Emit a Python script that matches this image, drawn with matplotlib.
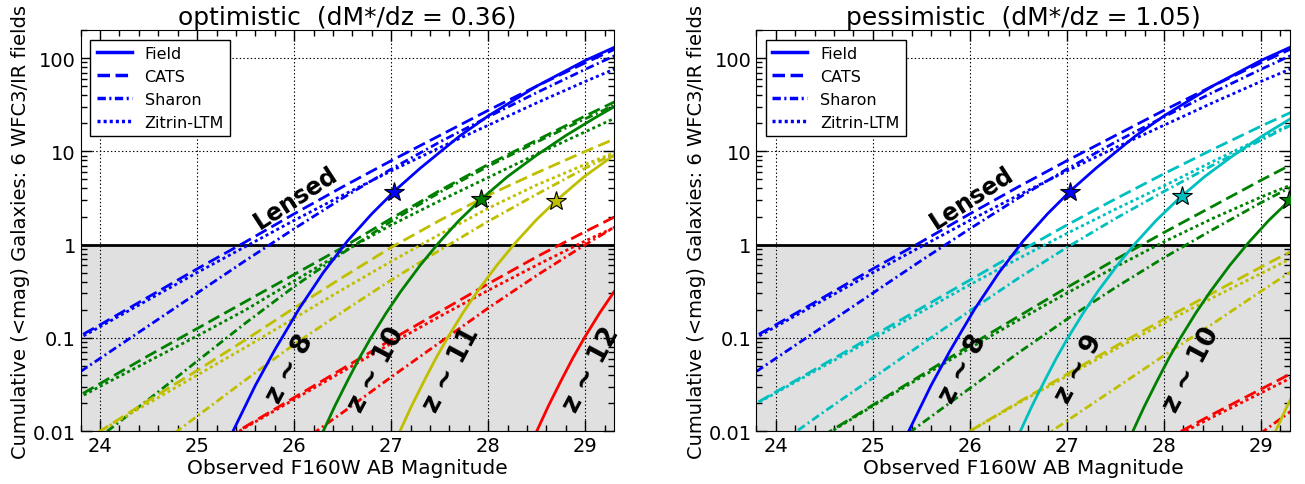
import numpy as np
import matplotlib
matplotlib.use("Agg")
import matplotlib.pyplot as plt
from matplotlib.ticker import MultipleLocator, FixedLocator, FuncFormatter

plt.rcParams['font.family'] = ['DejaVu Sans']
plt.rcParams['font.size'] = 14
plt.rcParams['lines.scale_dashes'] = False

# magnitude grid for the lensed curves
lens_mag = [23.5, 24.0, 24.5, 25.0, 25.5, 26.0, 26.5, 27.0, 27.5, 28.0, 28.5, 29.0, 29.5]

# all counts below are log10(N)
# z~8 is the same in both panels
field_z8_mag = [25.37, 25.6, 25.8, 26.05, 26.3, 26.55, 26.8, 27.05, 27.3, 27.7, 28.0, 28.5, 29.0, 29.35]
field_z8 = [-2.0, -1.51, -1.13, -0.69, -0.30, 0.04, 0.33, 0.59, 0.82, 1.16, 1.38, 1.70, 1.975, 2.14]
cats_z8 = [-1.15, -0.86, -0.56, -0.26, 0.03, 0.33, 0.62, 0.90, 1.17, 1.44, 1.70, 1.95, 2.19]
sharon_z8 = [-1.57, -1.22, -0.87, -0.52, -0.17, 0.17, 0.50, 0.81, 1.10, 1.37, 1.63, 1.88, 2.12]
zitrin_z8 = [-1.17, -0.88, -0.59, -0.30, -0.02, 0.26, 0.53, 0.79, 1.04, 1.28, 1.52, 1.75, 1.97]

# optimistic panel
opt_field_z10_mag = [26.30, 26.42, 26.55, 26.67, 26.79, 26.95, 27.1, 27.3, 27.49, 27.7, 27.93,
                     28.2, 28.5, 28.8, 29.1, 29.35]
opt_field_z10 = [-2.0, -1.73, -1.46, -1.22, -1.0, -0.73, -0.50, -0.22, 0.02, 0.26, 0.49,
                 0.73, 0.96, 1.17, 1.36, 1.51]
opt_cats_z10 = [-1.79, -1.49, -1.19, -0.90, -0.61, -0.32, -0.03, 0.28, 0.58, 0.86, 1.12, 1.38, 1.63]
opt_sharon_z10 = [-2.45, -2.06, -1.66, -1.25, -0.84, -0.45, -0.09, 0.25, 0.56, 0.84, 1.10, 1.35, 1.59]
opt_zitrin_z10 = [-1.80, -1.52, -1.25, -0.98, -0.70, -0.39, -0.08, 0.21, 0.47, 0.72, 0.97, 1.21, 1.45]

opt_field_z11_mag = [27.09, 27.21, 27.34, 27.46, 27.58, 27.74, 27.89, 28.09, 28.28, 28.49, 28.72,
                     28.99, 29.35]
opt_field_z11 = [-2.0, -1.73, -1.46, -1.22, -1.0, -0.73, -0.50, -0.22, 0.02, 0.26, 0.49,
                 0.73, 1.0]
opt_cats_z11 = [-2.32, -2.0, -1.67, -1.35, -1.02, -0.68, -0.35, -0.03, 0.26, 0.53, 0.77, 1.00, 1.22]
opt_sharon_z11 = [-3.0, -2.62, -2.23, -1.84, -1.45, -1.07, -0.72, -0.38, -0.06, 0.25, 0.54, 0.82, 1.08]
opt_zitrin_z11 = [-2.31, -2.0, -1.70, -1.40, -1.10, -0.79, -0.48, -0.18, 0.11, 0.39, 0.64, 0.86, 1.07]

opt_field_z12_mag = [28.50, 28.62, 28.75, 28.87, 28.99, 29.15, 29.3, 29.5]
opt_field_z12 = [-2.0, -1.73, -1.46, -1.22, -1.0, -0.73, -0.50, -0.22]
opt_cats_z12 = [-3.23, -2.91, -2.59, -2.27, -1.95, -1.64, -1.33, -1.02, -0.72, -0.42, -0.13, 0.14, 0.40]
opt_sharon_z12 = [-4.1, -3.7, -3.3, -2.93, -2.55, -2.17, -1.80, -1.42, -1.05, -0.68, -0.33, 0.0, 0.31]
opt_zitrin_z12 = [-3.23, -2.91, -2.59, -2.27, -1.96, -1.66, -1.36, -1.06, -0.77, -0.49, -0.22, 0.04, 0.28]

opt_star_mag = [27.03, 27.93, 28.70]
opt_star_n = [3.7, 3.05, 2.95]
opt_labels = ['z ~ 8', 'z ~ 10', 'z ~ 11', 'z ~ 12']
opt_label_mag = [25.96, 26.85, 27.62, 29.06]

# pessimistic panel
pes_field_z9_mag = [26.52, 26.64, 26.77, 26.89, 27.01, 27.17, 27.32, 27.52, 27.71, 27.92, 28.15,
                    28.42, 28.72, 29.02, 29.32, 29.5]
pes_field_z9 = [-2.0, -1.73, -1.46, -1.22, -1.0, -0.73, -0.50, -0.22, 0.02, 0.26, 0.49,
                0.73, 0.96, 1.17, 1.36, 1.47]
pes_cats_z9 = [-1.88, -1.58, -1.28, -0.98, -0.68, -0.38, -0.08, 0.21, 0.49, 0.76, 1.02, 1.27, 1.51]
pes_sharon_z9 = [-2.53, -2.16, -1.79, -1.43, -1.07, -0.71, -0.36, -0.03, 0.28, 0.57, 0.85, 1.12, 1.38]
pes_zitrin_z9 = [-1.88, -1.59, -1.30, -1.01, -0.72, -0.43, -0.15, 0.12, 0.38, 0.63, 0.89, 1.14, 1.38]

pes_field_z10_mag = [27.68, 27.80, 27.93, 28.05, 28.17, 28.33, 28.48, 28.68, 28.87, 29.08, 29.31, 29.5]
pes_field_z10 = [-2.0, -1.73, -1.46, -1.22, -1.0, -0.73, -0.50, -0.22, 0.02, 0.26, 0.49, 0.68]
pes_cats_z10 = [-2.7, -2.37, -2.04, -1.72, -1.40, -1.08, -0.77, -0.46, -0.16, 0.13, 0.41, 0.69, 0.96]
pes_sharon_z10 = [-3.5, -3.1, -2.70, -2.31, -1.92, -1.54, -1.16, -0.80, -0.46, -0.14, 0.16, 0.45, 0.72]
pes_zitrin_z10 = [-2.7, -2.37, -2.05, -1.73, -1.42, -1.11, -0.81, -0.52, -0.24, 0.03, 0.28, 0.51, 0.72]

pes_field_z11_mag = [29.15, 29.27, 29.4]
pes_field_z11 = [-2.0, -1.73, -1.46]
pes_cats_z11 = [-3.6, -3.25, -2.92, -2.6, -2.31, -2.0, -1.69, -1.39, -1.09, -0.80, -0.52, -0.24, 0.03]
pes_sharon_z11 = [-4.3, -3.95, -3.6, -3.25, -2.9, -2.57, -2.24, -1.89, -1.54, -1.19, -0.85, -0.50, -0.16]
pes_zitrin_z11 = [-3.6, -3.25, -2.92, -2.6, -2.31, -2.0, -1.70, -1.41, -1.12, -0.84, -0.57, -0.31, -0.05]

pes_cats_z12 = [-4.8, -4.5, -4.2, -3.9, -3.6, -3.3, -3.0, -2.7, -2.4, -2.1, -1.82, -1.55, -1.28]
pes_sharon_z12 = [-6.2, -5.82, -5.44, -5.06, -4.68, -4.3, -3.92, -3.54, -3.16, -2.78, -2.4, -2.02, -1.64]
pes_zitrin_z12 = [-4.8, -4.5, -4.2, -3.9, -3.6, -3.3, -3.0, -2.72, -2.42, -2.12, -1.85, -1.59, -1.33]

pes_star_mag = [27.03, 28.19, 29.29]
pes_star_n = [3.7, 3.35, 3.0]
pes_labels = ['z ~ 8', 'z ~ 9', 'z ~ 10']
pes_label_mag = [25.93, 27.13, 28.28]

blue, cyan, green, yellow, red = '#0000ff', '#00bfbf', '#008000', '#bfbf00', '#ff0000'
ls_cats = (0, (9, 4))
ls_sharon = (0, (6, 2.5, 1.5, 2.5))
ls_zitrin = (0, (2.2, 2.2))
LW = 2.0


def lensed(ax, cats, sharon, zitrin, color):
    ax.plot(lens_mag, np.power(10.0, cats), color=color, ls=ls_cats, lw=LW)
    ax.plot(lens_mag, np.power(10.0, sharon), color=color, ls=ls_sharon, lw=LW)
    ax.plot(lens_mag, np.power(10.0, zitrin), color=color, ls=ls_zitrin, lw=LW)


def field(ax, mag, logn, color):
    ax.plot(mag, np.power(10.0, logn), color=color, ls='-', lw=LW)


def setup(ax, title):
    ax.set_yscale('log')
    ax.set_xlim(23.8, 29.3)
    ax.set_ylim(0.01, 200)
    ax.axhspan(0.01, 1, color='#e0e0e0', zorder=0.5, lw=0)
    ax.axhline(1, color='k', lw=2, zorder=2)
    ax.xaxis.set_major_locator(MultipleLocator(1))
    ax.xaxis.set_minor_locator(MultipleLocator(0.2))
    ax.yaxis.set_major_locator(FixedLocator([0.01, 0.1, 1, 10, 100]))
    ax.yaxis.set_major_formatter(FuncFormatter(lambda v, p: '%g' % v))
    ax.tick_params(which='both', direction='in', top=True, right=True, labelsize=14)
    ax.tick_params(which='major', length=8, width=1)
    ax.tick_params(which='minor', length=4, width=1)
    ax.grid(True, which='major', ls=':', color='k', lw=0.8)
    ax.set_xlabel('Observed F160W AB Magnitude', fontsize=14.5, labelpad=2)
    ax.set_ylabel('Cumulative (<mag) Galaxies: 6 WFC3/IR fields', fontsize=14, labelpad=2)
    ax.set_title(title, fontsize=18, pad=4)
    ax.text(26.02, 3.2, 'Lensed', fontsize=17, fontweight='bold', rotation=33,
            ha='center', va='center', zorder=5)


fig = plt.figure(figsize=(13.05, 4.85), dpi=100)
ax1 = fig.add_axes([0.0618, 0.109, 0.409, 0.827])
ax2 = fig.add_axes([0.5796, 0.109, 0.409, 0.827])

# optimistic
setup(ax1, 'optimistic  (dM*/dz = 0.36)')
lensed(ax1, cats_z8, sharon_z8, zitrin_z8, blue)
lensed(ax1, opt_cats_z10, opt_sharon_z10, opt_zitrin_z10, green)
lensed(ax1, opt_cats_z11, opt_sharon_z11, opt_zitrin_z11, yellow)
lensed(ax1, opt_cats_z12, opt_sharon_z12, opt_zitrin_z12, red)
field(ax1, field_z8_mag, field_z8, blue)
field(ax1, opt_field_z10_mag, opt_field_z10, green)
field(ax1, opt_field_z11_mag, opt_field_z11, yellow)
field(ax1, opt_field_z12_mag, opt_field_z12, red)
for m, n, c in zip(opt_star_mag, opt_star_n, [blue, green, yellow]):
    ax1.plot(m, n, marker='*', ms=15, mfc=c, mec='k', mew=0.8, zorder=6)
for lab, m in zip(opt_labels, opt_label_mag):
    ax1.text(m, 0.047, lab, fontsize=19, fontweight='bold', rotation=62,
             ha='center', va='center', zorder=5)

# pessimistic
setup(ax2, 'pessimistic  (dM*/dz = 1.05)')
lensed(ax2, cats_z8, sharon_z8, zitrin_z8, blue)
lensed(ax2, pes_cats_z9, pes_sharon_z9, pes_zitrin_z9, cyan)
lensed(ax2, pes_cats_z10, pes_sharon_z10, pes_zitrin_z10, green)
lensed(ax2, pes_cats_z11, pes_sharon_z11, pes_zitrin_z11, yellow)
lensed(ax2, pes_cats_z12, pes_sharon_z12, pes_zitrin_z12, red)
field(ax2, field_z8_mag, field_z8, blue)
field(ax2, pes_field_z9_mag, pes_field_z9, cyan)
field(ax2, pes_field_z10_mag, pes_field_z10, green)
field(ax2, pes_field_z11_mag, pes_field_z11, yellow)
for m, n, c in zip(pes_star_mag, pes_star_n, [blue, cyan, green]):
    ax2.plot(m, n, marker='*', ms=15, mfc=c, mec='k', mew=0.8, zorder=6)
for lab, m in zip(pes_labels, pes_label_mag):
    ax2.text(m, 0.047, lab, fontsize=19, fontweight='bold', rotation=62,
             ha='center', va='center', zorder=5)

# legends (blue curves)
for ax in (ax1, ax2):
    h = [plt.Line2D([], [], color=blue, ls='-', lw=2.5),
         plt.Line2D([], [], color=blue, ls=ls_cats, lw=2.5),
         plt.Line2D([], [], color=blue, ls=ls_sharon, lw=2.5),
         plt.Line2D([], [], color=blue, ls=ls_zitrin, lw=2.5)]
    leg = ax.legend(h, ['Field', 'CATS', 'Sharon', 'Zitrin-LTM'], loc='upper left',
                    fontsize=11.5, fancybox=False, framealpha=1, edgecolor='k',
                    handlelength=2.2, borderaxespad=0.6)
    leg.get_frame().set_linewidth(1)
    leg.set_zorder(10)

fig.savefig('out.png', dpi=100)
